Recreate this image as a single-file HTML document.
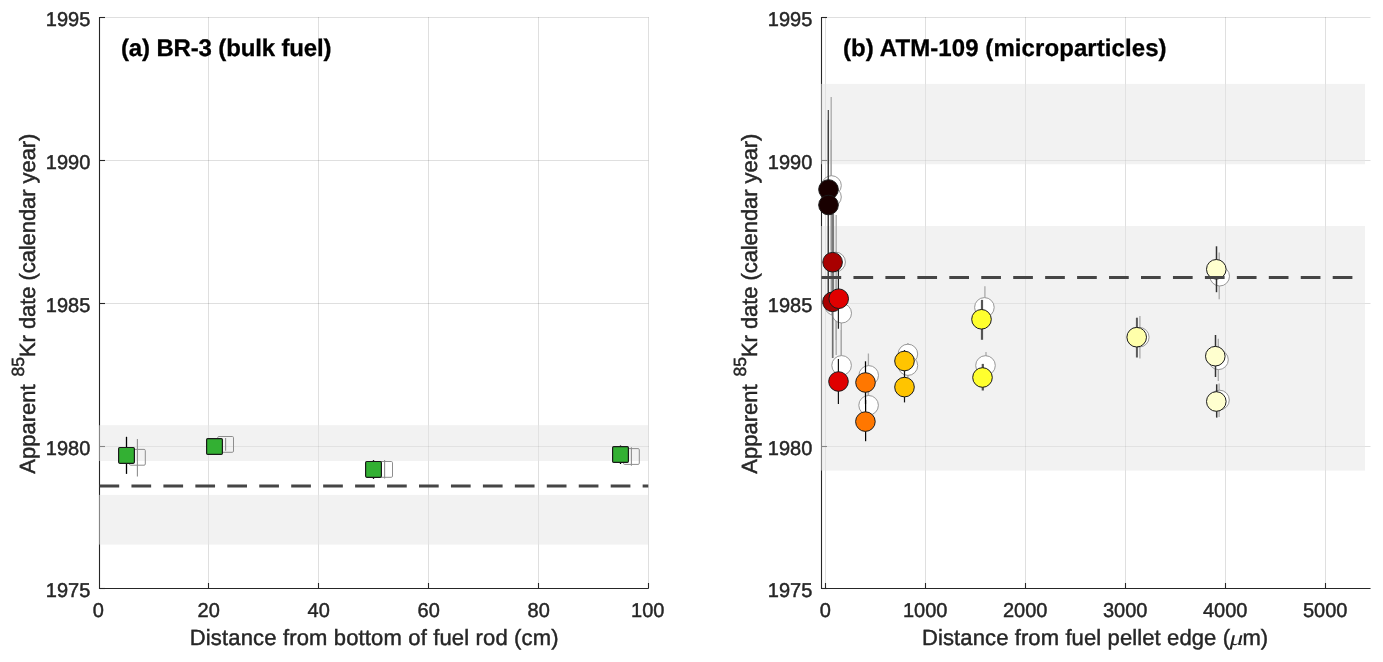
<!DOCTYPE html>
<html lang="en"><head><meta charset="utf-8"><title>Apparent 85Kr date</title>
<style>html,body{margin:0;padding:0;background:#fff;}svg{display:block;}text{font-family:"Liberation Sans", "DejaVu Sans", sans-serif;text-rendering:geometricPrecision;fill:#262626;stroke:#262626;stroke-width:0.45px;}.tk{font-size:20px;}.lb{font-size:22px;}.tt{font-size:24px;font-weight:bold;fill:#000;stroke:#000;stroke-width:0.3px;}</style></head><body>
<svg width="1383" height="662" viewBox="0 0 1383 662">
<rect x="0" y="0" width="1383" height="662" fill="#fff"/>
<line x1="208.5" y1="17.0" x2="208.5" y2="588.5" stroke="rgba(38,38,38,0.15)" stroke-width="1"/>
<line x1="318.5" y1="17.0" x2="318.5" y2="588.5" stroke="rgba(38,38,38,0.15)" stroke-width="1"/>
<line x1="428.5" y1="17.0" x2="428.5" y2="588.5" stroke="rgba(38,38,38,0.15)" stroke-width="1"/>
<line x1="538.5" y1="17.0" x2="538.5" y2="588.5" stroke="rgba(38,38,38,0.15)" stroke-width="1"/>
<line x1="648.5" y1="17.0" x2="648.5" y2="588.5" stroke="rgba(38,38,38,0.15)" stroke-width="1"/>
<line x1="99.5" y1="17.5" x2="648.5" y2="17.5" stroke="rgba(38,38,38,0.15)" stroke-width="1"/>
<line x1="99.5" y1="160.5" x2="648.5" y2="160.5" stroke="rgba(38,38,38,0.15)" stroke-width="1"/>
<line x1="99.5" y1="303.5" x2="648.5" y2="303.5" stroke="rgba(38,38,38,0.15)" stroke-width="1"/>
<line x1="99.5" y1="446.5" x2="648.5" y2="446.5" stroke="rgba(38,38,38,0.15)" stroke-width="1"/>
<line x1="99.5" y1="588.5" x2="648.5" y2="588.5" stroke="rgba(38,38,38,0.15)" stroke-width="1"/>
<path d="M99.5 17.0V588.5H648.5" fill="none" stroke="#262626" stroke-width="1.1" stroke-linejoin="miter"/>
<line x1="208.5" y1="588.5" x2="208.5" y2="583.0" stroke="#262626" stroke-width="1.1"/>
<line x1="318.5" y1="588.5" x2="318.5" y2="583.0" stroke="#262626" stroke-width="1.1"/>
<line x1="428.5" y1="588.5" x2="428.5" y2="583.0" stroke="#262626" stroke-width="1.1"/>
<line x1="538.5" y1="588.5" x2="538.5" y2="583.0" stroke="#262626" stroke-width="1.1"/>
<line x1="648.5" y1="588.5" x2="648.5" y2="583.0" stroke="#262626" stroke-width="1.1"/>
<line x1="99.5" y1="17.5" x2="105.0" y2="17.5" stroke="#262626" stroke-width="1.1"/>
<line x1="99.5" y1="160.5" x2="105.0" y2="160.5" stroke="#262626" stroke-width="1.1"/>
<line x1="99.5" y1="303.5" x2="105.0" y2="303.5" stroke="#262626" stroke-width="1.1"/>
<line x1="99.5" y1="446.5" x2="105.0" y2="446.5" stroke="#262626" stroke-width="1.1"/>
<line x1="99.5" y1="588.5" x2="105.0" y2="588.5" stroke="#262626" stroke-width="1.1"/>
<rect x="99" y="425.2" width="549.2" height="35.80000000000001" fill="rgba(230,230,230,0.5)"/>
<rect x="99" y="494.9" width="549.2" height="49.700000000000045" fill="rgba(230,230,230,0.5)"/>
<line x1="825.5" y1="17.0" x2="825.5" y2="588.5" stroke="rgba(38,38,38,0.15)" stroke-width="1"/>
<line x1="925.5" y1="17.0" x2="925.5" y2="588.5" stroke="rgba(38,38,38,0.15)" stroke-width="1"/>
<line x1="1025.5" y1="17.0" x2="1025.5" y2="588.5" stroke="rgba(38,38,38,0.15)" stroke-width="1"/>
<line x1="1125.5" y1="17.0" x2="1125.5" y2="588.5" stroke="rgba(38,38,38,0.15)" stroke-width="1"/>
<line x1="1225.5" y1="17.0" x2="1225.5" y2="588.5" stroke="rgba(38,38,38,0.15)" stroke-width="1"/>
<line x1="1325.5" y1="17.0" x2="1325.5" y2="588.5" stroke="rgba(38,38,38,0.15)" stroke-width="1"/>
<line x1="821.5" y1="17.5" x2="1370.5" y2="17.5" stroke="rgba(38,38,38,0.15)" stroke-width="1"/>
<line x1="821.5" y1="160.5" x2="1370.5" y2="160.5" stroke="rgba(38,38,38,0.15)" stroke-width="1"/>
<line x1="821.5" y1="303.5" x2="1370.5" y2="303.5" stroke="rgba(38,38,38,0.15)" stroke-width="1"/>
<line x1="821.5" y1="446.5" x2="1370.5" y2="446.5" stroke="rgba(38,38,38,0.15)" stroke-width="1"/>
<line x1="821.5" y1="588.5" x2="1370.5" y2="588.5" stroke="rgba(38,38,38,0.15)" stroke-width="1"/>
<path d="M821.5 17.0V588.5H1370.5" fill="none" stroke="#262626" stroke-width="1.1" stroke-linejoin="miter"/>
<line x1="825.5" y1="588.5" x2="825.5" y2="583.0" stroke="#262626" stroke-width="1.1"/>
<line x1="925.5" y1="588.5" x2="925.5" y2="583.0" stroke="#262626" stroke-width="1.1"/>
<line x1="1025.5" y1="588.5" x2="1025.5" y2="583.0" stroke="#262626" stroke-width="1.1"/>
<line x1="1125.5" y1="588.5" x2="1125.5" y2="583.0" stroke="#262626" stroke-width="1.1"/>
<line x1="1225.5" y1="588.5" x2="1225.5" y2="583.0" stroke="#262626" stroke-width="1.1"/>
<line x1="1325.5" y1="588.5" x2="1325.5" y2="583.0" stroke="#262626" stroke-width="1.1"/>
<line x1="821.5" y1="17.5" x2="827.0" y2="17.5" stroke="#262626" stroke-width="1.1"/>
<line x1="821.5" y1="160.5" x2="827.0" y2="160.5" stroke="#262626" stroke-width="1.1"/>
<line x1="821.5" y1="303.5" x2="827.0" y2="303.5" stroke="#262626" stroke-width="1.1"/>
<line x1="821.5" y1="446.5" x2="827.0" y2="446.5" stroke="#262626" stroke-width="1.1"/>
<line x1="821.5" y1="588.5" x2="827.0" y2="588.5" stroke="#262626" stroke-width="1.1"/>
<rect x="821" y="83.9" width="544" height="80.29999999999998" fill="rgba(230,230,230,0.5)"/>
<rect x="821" y="226" width="544" height="244.60000000000002" fill="rgba(230,230,230,0.5)"/>
<rect x="129.50" y="449.40" width="15.8" height="15.8" rx="1.2" fill="none" stroke="#8e8e8e" stroke-width="1.0"/>
<line x1="137.4" y1="439" x2="137.4" y2="476.6" stroke="#8e8e8e" stroke-width="1.1"/>
<rect x="217.70" y="436.50" width="15.8" height="15.8" rx="1.2" fill="none" stroke="#8e8e8e" stroke-width="1.0"/>
<line x1="225.6" y1="438.1" x2="225.6" y2="450.8" stroke="#8e8e8e" stroke-width="1.1"/>
<rect x="376.70" y="461.50" width="15.8" height="15.8" rx="1.2" fill="none" stroke="#8e8e8e" stroke-width="1.0"/>
<line x1="384.6" y1="459.9" x2="384.6" y2="478.5" stroke="#8e8e8e" stroke-width="1.1"/>
<rect x="623.50" y="448.60" width="15.8" height="15.8" rx="1.2" fill="none" stroke="#8e8e8e" stroke-width="1.0"/>
<line x1="631.4" y1="447.2" x2="631.4" y2="465.8" stroke="#8e8e8e" stroke-width="1.1"/>
<line x1="126.5" y1="436.8" x2="126.5" y2="473.9" stroke="#000" stroke-width="1.3"/>
<rect x="118.60" y="447.50" width="15.8" height="15.8" rx="1.2" fill="#33b033" stroke="#1a1a1a" stroke-width="1.2"/>
<line x1="214.5" y1="440" x2="214.5" y2="453" stroke="#000" stroke-width="1.3"/>
<rect x="206.60" y="438.60" width="15.8" height="15.8" rx="1.2" fill="#33b033" stroke="#1a1a1a" stroke-width="1.2"/>
<line x1="373.5" y1="460.1" x2="373.5" y2="478.9" stroke="#000" stroke-width="1.3"/>
<rect x="365.60" y="461.50" width="15.8" height="15.8" rx="1.2" fill="#33b033" stroke="#1a1a1a" stroke-width="1.2"/>
<line x1="620.5" y1="445.5" x2="620.5" y2="464" stroke="#000" stroke-width="1.3"/>
<rect x="612.60" y="446.60" width="15.8" height="15.8" rx="1.2" fill="#33b033" stroke="#1a1a1a" stroke-width="1.2"/>
<line x1="99.5" y1="485.9" x2="648.3" y2="485.9" stroke="#454545" stroke-width="3" stroke-dasharray="19.7 12.25"/>
<line x1="831.2" y1="97" x2="831.2" y2="250" stroke="#aaaaaa" stroke-width="1.3"/>
<line x1="831.2" y1="140" x2="831.2" y2="300" stroke="#aaaaaa" stroke-width="1.3"/>
<line x1="836.2" y1="215" x2="836.2" y2="355" stroke="#aaaaaa" stroke-width="1.3"/>
<line x1="836.2" y1="280" x2="836.2" y2="340" stroke="#aaaaaa" stroke-width="1.3"/>
<line x1="841.3" y1="300" x2="841.3" y2="360" stroke="#aaaaaa" stroke-width="1.3"/>
<line x1="841.3" y1="330" x2="841.3" y2="375" stroke="#aaaaaa" stroke-width="1.3"/>
<line x1="868.4" y1="353.5" x2="868.4" y2="400" stroke="#aaaaaa" stroke-width="1.3"/>
<line x1="868.4" y1="390" x2="868.4" y2="420" stroke="#aaaaaa" stroke-width="1.3"/>
<line x1="907.9" y1="343" x2="907.9" y2="368" stroke="#aaaaaa" stroke-width="1.3"/>
<line x1="907.9" y1="355" x2="907.9" y2="377" stroke="#aaaaaa" stroke-width="1.3"/>
<line x1="984.9" y1="286.3" x2="984.9" y2="325" stroke="#aaaaaa" stroke-width="1.3"/>
<line x1="986" y1="352" x2="986" y2="378" stroke="#aaaaaa" stroke-width="1.3"/>
<line x1="1139.9" y1="316" x2="1139.9" y2="358.4" stroke="#aaaaaa" stroke-width="1.3"/>
<line x1="1219.2" y1="252.6" x2="1219.2" y2="299.3" stroke="#aaaaaa" stroke-width="1.3"/>
<line x1="1218.3" y1="338.7" x2="1218.3" y2="381" stroke="#aaaaaa" stroke-width="1.3"/>
<line x1="1219.1" y1="383.5" x2="1219.1" y2="417" stroke="#aaaaaa" stroke-width="1.3"/>
<circle cx="831.5" cy="185.5" r="9.8" fill="#ffffff" stroke="#8c8c8c" stroke-width="0.9"/>
<circle cx="831.5" cy="197" r="9.8" fill="#ffffff" stroke="#8c8c8c" stroke-width="0.9"/>
<circle cx="835.6" cy="262" r="9.8" fill="#ffffff" stroke="#8c8c8c" stroke-width="0.9"/>
<circle cx="834.5" cy="305.5" r="9.8" fill="#ffffff" stroke="#8c8c8c" stroke-width="0.9"/>
<circle cx="841.7" cy="313.2" r="9.8" fill="#ffffff" stroke="#8c8c8c" stroke-width="0.9"/>
<circle cx="841.6" cy="365.4" r="9.8" fill="#ffffff" stroke="#8c8c8c" stroke-width="0.9"/>
<circle cx="868.7" cy="375.4" r="9.8" fill="#ffffff" stroke="#8c8c8c" stroke-width="0.9"/>
<circle cx="868.6" cy="405.3" r="9.8" fill="#ffffff" stroke="#8c8c8c" stroke-width="0.9"/>
<circle cx="907.9" cy="354" r="9.8" fill="#ffffff" stroke="#8c8c8c" stroke-width="0.9"/>
<circle cx="907.9" cy="365.6" r="9.8" fill="#ffffff" stroke="#8c8c8c" stroke-width="0.9"/>
<circle cx="984.4" cy="307.4" r="9.8" fill="#ffffff" stroke="#8c8c8c" stroke-width="0.9"/>
<circle cx="985.5" cy="365.5" r="9.8" fill="#ffffff" stroke="#8c8c8c" stroke-width="0.9"/>
<circle cx="1139.3" cy="337.2" r="9.8" fill="#ffffff" stroke="#8c8c8c" stroke-width="0.9"/>
<circle cx="1219.7" cy="276.2" r="9.8" fill="#ffffff" stroke="#8c8c8c" stroke-width="0.9"/>
<circle cx="1218.5" cy="359.8" r="9.8" fill="#ffffff" stroke="#8c8c8c" stroke-width="0.9"/>
<circle cx="1219.5" cy="400" r="9.8" fill="#ffffff" stroke="#8c8c8c" stroke-width="0.9"/>
<line x1="828.3" y1="110" x2="828.3" y2="300" stroke="#3a3a3a" stroke-width="1.15"/>
<line x1="828.3" y1="120" x2="828.3" y2="300" stroke="#3a3a3a" stroke-width="1.15"/>
<line x1="832.8" y1="214" x2="832.8" y2="306" stroke="#7a7a7a" stroke-width="2.6"/>
<line x1="832.7" y1="300" x2="832.7" y2="358" stroke="#707070" stroke-width="1.7"/>
<line x1="838.4" y1="270" x2="838.4" y2="328.8" stroke="#222222" stroke-width="1.2"/>
<line x1="838.4" y1="359" x2="838.4" y2="404" stroke="#111111" stroke-width="1.2"/>
<line x1="865.5" y1="361.3" x2="865.5" y2="404" stroke="#000000" stroke-width="1.25"/>
<line x1="865.6" y1="400" x2="865.6" y2="441.2" stroke="#000000" stroke-width="1.25"/>
<line x1="904.5" y1="350" x2="904.5" y2="372" stroke="#111111" stroke-width="1.2"/>
<line x1="904.5" y1="370" x2="904.5" y2="402.4" stroke="#111111" stroke-width="1.2"/>
<line x1="982" y1="299.9" x2="982" y2="339.8" stroke="#555555" stroke-width="2.2"/>
<line x1="982.8" y1="363.9" x2="982.8" y2="390.5" stroke="#555555" stroke-width="2.2"/>
<line x1="1136.9" y1="317.7" x2="1136.9" y2="357.5" stroke="#595959" stroke-width="2.0"/>
<line x1="1216.5" y1="246.3" x2="1216.5" y2="292.2" stroke="#333333" stroke-width="1.5"/>
<line x1="1215.5" y1="335" x2="1215.5" y2="377" stroke="#333333" stroke-width="1.5"/>
<line x1="1216.7" y1="384.3" x2="1216.7" y2="417.6" stroke="#333333" stroke-width="1.5"/>
<circle cx="828.5" cy="189.5" r="9.8" fill="#190000" stroke="#1a1a1a" stroke-width="1.0"/>
<circle cx="828.5" cy="205" r="9.8" fill="#190000" stroke="#1a1a1a" stroke-width="1.0"/>
<circle cx="832.6" cy="262.2" r="9.8" fill="#a80000" stroke="#1a1a1a" stroke-width="1.0"/>
<circle cx="832.5" cy="301.8" r="9.8" fill="#a80000" stroke="#1a1a1a" stroke-width="1.0"/>
<circle cx="838.7" cy="298.7" r="9.8" fill="#e00000" stroke="#1a1a1a" stroke-width="1.0"/>
<circle cx="838.5" cy="381.5" r="9.8" fill="#e00000" stroke="#1a1a1a" stroke-width="1.0"/>
<circle cx="865.5" cy="382.5" r="9.8" fill="#ff7700" stroke="#1a1a1a" stroke-width="1.0"/>
<circle cx="865.4" cy="421.6" r="9.8" fill="#ff7700" stroke="#1a1a1a" stroke-width="1.0"/>
<circle cx="904.5" cy="361" r="9.8" fill="#ffc400" stroke="#1a1a1a" stroke-width="1.0"/>
<circle cx="904.5" cy="387.1" r="9.8" fill="#ffc400" stroke="#1a1a1a" stroke-width="1.0"/>
<circle cx="981.5" cy="319.3" r="9.8" fill="#ffff2e" stroke="#1a1a1a" stroke-width="1.0"/>
<circle cx="982.5" cy="377.5" r="9.8" fill="#ffff2e" stroke="#1a1a1a" stroke-width="1.0"/>
<circle cx="1136.7" cy="337.2" r="9.8" fill="#ffffaa" stroke="#1a1a1a" stroke-width="1.0"/>
<circle cx="1216.3" cy="269.3" r="9.8" fill="#ffffcf" stroke="#1a1a1a" stroke-width="1.0"/>
<circle cx="1215.3" cy="356.2" r="9.8" fill="#ffffcf" stroke="#1a1a1a" stroke-width="1.0"/>
<circle cx="1216.3" cy="401.5" r="9.8" fill="#ffffcf" stroke="#1a1a1a" stroke-width="1.0"/>
<line x1="821.5" y1="277.5" x2="1355.5" y2="277.5" stroke="#454545" stroke-width="3" stroke-dasharray="19.7 12.25"/>
<text class="tk" x="90.3" y="25.5" text-anchor="end">1995</text>
<text class="tk" x="812.3" y="25.5" text-anchor="end">1995</text>
<text class="tk" x="90.3" y="168.5" text-anchor="end">1990</text>
<text class="tk" x="812.3" y="168.5" text-anchor="end">1990</text>
<text class="tk" x="90.3" y="311.5" text-anchor="end">1985</text>
<text class="tk" x="812.3" y="311.5" text-anchor="end">1985</text>
<text class="tk" x="90.3" y="454.5" text-anchor="end">1980</text>
<text class="tk" x="812.3" y="454.5" text-anchor="end">1980</text>
<text class="tk" x="90.3" y="596.5" text-anchor="end">1975</text>
<text class="tk" x="812.3" y="596.5" text-anchor="end">1975</text>
<text class="tk" x="98.3" y="617" text-anchor="middle">0</text>
<text class="tk" x="208.7" y="617" text-anchor="middle">20</text>
<text class="tk" x="318.7" y="617" text-anchor="middle">40</text>
<text class="tk" x="428.7" y="617" text-anchor="middle">60</text>
<text class="tk" x="538.7" y="617" text-anchor="middle">80</text>
<text class="tk" x="647.8" y="617" text-anchor="middle">100</text>
<text class="tk" x="825.2" y="617" text-anchor="middle">0</text>
<text class="tk" x="925.2" y="617" text-anchor="middle">1000</text>
<text class="tk" x="1025.2" y="617" text-anchor="middle">2000</text>
<text class="tk" x="1125.2" y="617" text-anchor="middle">3000</text>
<text class="tk" x="1225.2" y="617" text-anchor="middle">4000</text>
<text class="tk" x="1325.2" y="617" text-anchor="middle">5000</text>
<text class="lb" x="189.8" y="645" textLength="368.7" lengthAdjust="spacing">Distance from bottom of fuel rod (cm)</text>
<text class="lb" x="922.0" y="645" textLength="308.0" lengthAdjust="spacing">Distance from fuel pellet edge (</text>
<text transform="translate(1229.4 645) scale(1.2 0.92)" x="0" y="0" style="font-family:'Liberation Serif','DejaVu Serif',serif;font-style:italic;font-size:23px;stroke:none;fill:#262626">μ</text>
<text class="lb" x="1242.4" y="645">m)</text>
<g transform="translate(35 0) rotate(-90)">
<text class="lb" x="-473.7" y="0" textLength="89.3" lengthAdjust="spacing">Apparent</text>
<text class="lb" x="-376.6" y="-10.6" style="font-size:17.6px">85</text>
<text class="lb" x="-357.0" y="0" textLength="223.4" lengthAdjust="spacing">Kr date (calendar year)</text>
</g>
<g transform="translate(757 0) rotate(-90)">
<text class="lb" x="-473.7" y="0" textLength="89.3" lengthAdjust="spacing">Apparent</text>
<text class="lb" x="-376.6" y="-10.6" style="font-size:17.6px">85</text>
<text class="lb" x="-357.0" y="0" textLength="223.4" lengthAdjust="spacing">Kr date (calendar year)</text>
</g>
<text class="tt" x="121.0" y="56" textLength="210.5" lengthAdjust="spacing">(a) BR-3 (bulk fuel)</text>
<text class="tt" x="843.0" y="56" textLength="323.6" lengthAdjust="spacing">(b) ATM-109 (microparticles)</text>
</svg></body></html>
